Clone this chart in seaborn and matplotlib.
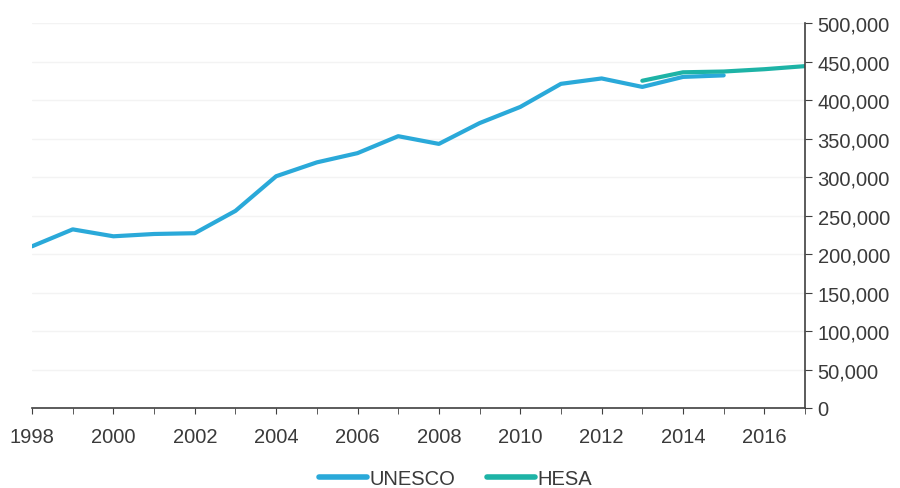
import pandas as pd
import matplotlib.pyplot as plt
import matplotlib.ticker as mticker
import seaborn as sns

unesco_years = list(range(1998, 2016))
unesco_values = [210000, 232000, 223000, 226000, 227000, 256000, 301000, 319000, 331000,
                 353000, 343000, 370000, 391000, 421000, 428000, 417000, 430000, 432000]
hesa_years = [2013, 2014, 2015, 2016, 2017]
hesa_values = [425000, 436000, 437000, 440000, 444000]

df = pd.concat([
    pd.DataFrame({"Year": unesco_years, "Students": unesco_values, "Source": "UNESCO"}),
    pd.DataFrame({"Year": hesa_years, "Students": hesa_values, "Source": "HESA"}),
], ignore_index=True)

sns.set_style("white")
plt.rcParams['font.family'] = ['Liberation Sans', 'DejaVu Sans']

fig = plt.figure(figsize=(9, 4.89), dpi=100)
ax = fig.add_axes([0.0356, 0.1636, 0.8589, 0.7873])

palette = {"UNESCO": "#2aa9d9", "HESA": "#1db3a6"}
sns.lineplot(data=df, x="Year", y="Students", hue="Source", palette=palette,
             linewidth=3.0, ax=ax, legend=False)

ax.set_xlim(1998, 2017)
ax.set_ylim(0, 500000)
ax.set_xticks(range(1998, 2018, 2))
ax.set_xticks(range(1998, 2018), minor=True)
ax.set_yticks(range(0, 500001, 50000))
ax.yaxis.set_major_formatter(mticker.FuncFormatter(lambda v, p: f"{int(v):,}"))
ax.yaxis.tick_right()
ax.set_xlabel("")
ax.set_ylabel("")

for s in ["top", "left"]:
    ax.spines[s].set_visible(False)
for s in ["bottom", "right"]:
    ax.spines[s].set_color("#404040")
    ax.spines[s].set_linewidth(1.2)

ax.grid(axis="y", color="#f3f3f3", linewidth=1)
ax.tick_params(axis="y", which="both", direction="out", length=5, color="#404040",
               labelsize=14.5, labelcolor="#3a3a3a", pad=4, right=True, left=False)
ax.tick_params(axis="x", which="both", direction="out", length=4, color="#404040",
               labelsize=14.5, labelcolor="#3a3a3a", pad=10, bottom=True)

handles = [plt.Line2D([], [], color=palette[k], linewidth=4.0, solid_capstyle="round")
           for k in ["UNESCO", "HESA"]]
fig.legend(handles, ["UNESCO", "HESA"], loc="center", bbox_to_anchor=(0.506, 0.02),
           ncol=2, frameon=False, fontsize=14.5, handlelength=2.4, handletextpad=0.1,
           columnspacing=1.6, labelcolor="#3a3a3a")

fig.savefig("out.png", dpi=100, facecolor="white")
